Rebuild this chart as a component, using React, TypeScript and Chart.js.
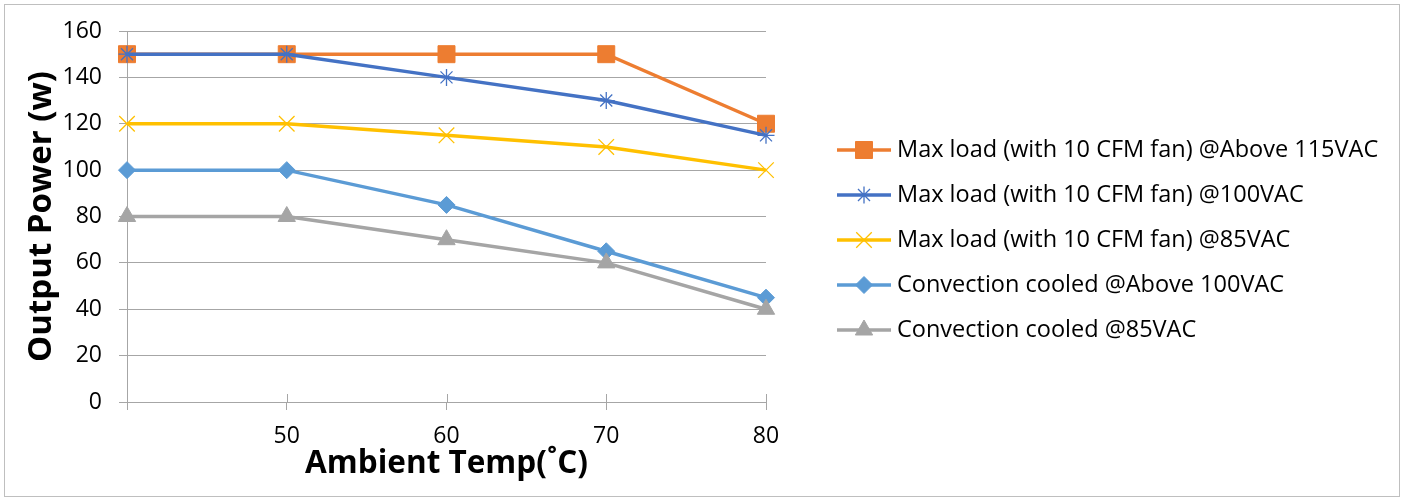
import React, { useEffect, useRef } from 'react';
import { Chart, registerables } from 'chart.js';
import { drawPoint } from 'chart.js/helpers';

Chart.register(...registerables);

const categories = ['', '50', '60', '70', '80'];
const seriesNames = [
  'Max load (with 10 CFM fan) @Above 115VAC',
  'Max load (with 10 CFM fan) @100VAC',
  'Max load (with 10 CFM fan) @85VAC',
  'Convection cooled @Above 100VAC',
  'Convection cooled @85VAC',
];
const fanAbove115 = [150, 150, 150, 150, 120];
const fan100 = [150, 150, 140, 130, 115];
const fan85 = [120, 120, 115, 110, 100];
const convAbove100 = [100, 100, 85, 65, 45];
const conv85 = [80, 80, 70, 60, 40];
const yTicks = { min: 0, max: 160, step: 20 };
const xTitle = 'Ambient Temp(˚C)';
const yTitle = 'Output Power (w)';

const seriesValues = [fanAbove115, fan100, fan85, convAbove100, conv85];
const colors = ['#ED7D31', '#4472C4', '#FFC000', '#5B9BD5', '#A5A5A5'];
const pointStyles = ['rect', 'star', 'crossRot', 'rectRot', 'triangle'];
const pointRadii = [12, 8.5, 11, 8.5, 10];
const filled = [true, false, false, true, true];

const FONT = "'Open Sans', sans-serif";
const GRID = '#a6a6a6';

const legendPlugin = {
  id: 'excelLegend',
  afterDraw(chart: any) {
    const ctx = chart.ctx;
    const ca = chart.chartArea;
    const x0 = ca.right + 71;
    const x1 = ca.right + 125;
    const tx = ca.right + 131;
    const y0 = 150;
    const step = 45;
    ctx.save();
    chart.data.datasets.forEach((ds: any, i: number) => {
      const y = y0 + i * step;
      ctx.strokeStyle = ds.borderColor;
      ctx.lineWidth = ds.borderWidth;
      ctx.beginPath();
      ctx.moveTo(x0, y);
      ctx.lineTo(x1, y);
      ctx.stroke();
      ctx.fillStyle = ds.pointBackgroundColor;
      ctx.strokeStyle = ds.pointBorderColor;
      ctx.lineWidth = ds.pointBorderWidth;
      drawPoint(ctx, { pointStyle: ds.pointStyle, rotation: 0, radius: ds.pointRadius, borderWidth: ds.pointBorderWidth }, (x0 + x1) / 2, y);
      ctx.fillStyle = '#000';
      ctx.font = `23.5px ${FONT}`;
      ctx.textAlign = 'left';
      ctx.textBaseline = 'middle';
      ctx.fillText(ds.label, tx, y);
    });
    ctx.restore();
  },
};

const crossTickPlugin = {
  id: 'crossTicks',
  beforeDatasetsDraw(chart: any) {
    const ctx = chart.ctx;
    const xs = chart.scales.x;
    const b = chart.chartArea.bottom;
    ctx.save();
    ctx.strokeStyle = GRID;
    ctx.lineWidth = 1;
    xs.ticks.forEach((_t: any, i: number) => {
      const x = Math.round(xs.getPixelForTick(i)) + 0.5;
      ctx.beginPath();
      ctx.moveTo(x, b - 8);
      ctx.lineTo(x, b);
      ctx.stroke();
    });
    ctx.restore();
  },
};

export default function App() {
  const ref = useRef<HTMLCanvasElement | null>(null);
  useEffect(() => {
    if (!ref.current) return;
    const chart = new Chart(ref.current, {
      type: 'line',
      data: {
        labels: categories,
        datasets: seriesValues.map((vals, i) => ({
          label: seriesNames[i],
          data: vals,
          borderColor: colors[i],
          backgroundColor: colors[i],
          borderWidth: 3.5,
          tension: 0,
          pointStyle: pointStyles[i] as any,
          pointRadius: pointRadii[i],
          pointHoverRadius: pointRadii[i],
          pointBackgroundColor: filled[i] ? colors[i] : 'rgba(0,0,0,0)',
          pointBorderColor: colors[i],
          pointBorderWidth: filled[i] ? 1 : 1.3,
          clip: false as any,
          order: seriesValues.length - i,
        })),
      },
      options: {
        animation: false,
        responsive: true,
        maintainAspectRatio: false,
        devicePixelRatio: 1,
        layout: { padding: { left: 5, right: 639, top: 31, bottom: 0 } },
        plugins: { legend: { display: false }, tooltip: { enabled: false } },
        scales: {
          x: {
            type: 'category',
            offset: false,
            grid: { display: true, drawOnChartArea: false, drawTicks: true, tickLength: 8, color: GRID },
            border: { display: true, color: GRID, width: 1 },
            ticks: { autoSkip: false, maxRotation: 0, padding: 13, color: '#000', font: { family: FONT, size: 23 } },
            title: { display: true, text: xTitle, color: '#000', font: { family: FONT, size: 31.5, weight: 'bold' }, padding: { top: 0, bottom: 16 } },
            afterFit: (s: any) => { s.height = 97; },
          },
          y: {
            min: yTicks.min,
            max: yTicks.max,
            ticks: { stepSize: yTicks.step, padding: 17, color: '#000', font: { family: FONT, size: 23 } },
            grid: { color: GRID, tickLength: 8, drawTicks: true },
            border: { display: true, color: GRID, width: 1 },
            title: { display: true, text: yTitle, color: '#000', font: { family: FONT, size: 33, weight: 'bold' }, padding: { top: 17.2, bottom: 0 } },
            afterFit: (s: any) => { s.width = 122; },
          },
        },
      },
      plugins: [crossTickPlugin, legendPlugin],
    });
    return () => chart.destroy();
  }, []);

  return (
    <div style={{ position: 'fixed', left: 0, top: 0, width: 1405, height: 499, background: '#fff' }}>
      <div style={{ position: 'absolute', left: 4, top: 4, width: 1396, height: 493, border: '1px solid #bfbfbf', boxSizing: 'border-box' }} />
      <canvas ref={ref} style={{ position: 'absolute', left: 0, top: 0 }} />
    </div>
  );
}
